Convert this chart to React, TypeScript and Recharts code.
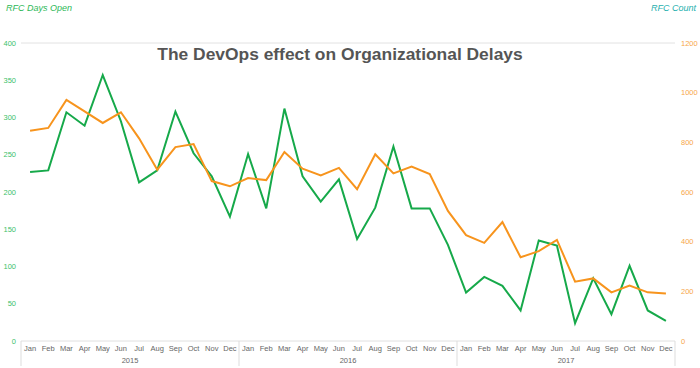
import React from "react";
import {
  ComposedChart,
  Line,
  XAxis,
  YAxis,
  CartesianGrid,
} from "recharts";

const months = ["Jan", "Feb", "Mar", "Apr", "May", "Jun", "Jul", "Aug", "Sep", "Oct", "Nov", "Dec"];
const years = ["2015", "2016", "2017"];

// RFC Days Open (left axis)
const daysOpen = [
  227, 229, 307, 289, 357, 295, 213, 229, 308, 252, 221, 167,
  251, 178, 312, 221, 187, 217, 137, 179, 261, 178, 178, 129,
  65, 86, 74, 41, 135, 128, 24, 84, 36, 101, 41, 27,
];

// RFC Count (right axis)
const rfcCount = [
  847, 858, 971, 925, 878, 921, 816, 690, 781, 793, 644, 623,
  656, 648, 761, 694, 667, 697, 611, 752, 675, 702, 672, 524,
  426, 395, 479, 337, 362, 407, 239, 252, 196, 223, 196, 191,
];

const leftTicks = [0, 50, 100, 150, 200, 250, 300, 350, 400];
const rightTicks = [0, 200, 400, 600, 800, 1000, 1200];

const GREEN = "#16a94a";
const ORANGE = "#f7941d";

const data = daysOpen.map((d, i) => ({
  key: `${months[i % 12]} ${years[Math.floor(i / 12)]}`,
  daysOpen: d,
  rfcCount: rfcCount[i],
}));

function MonthTick(props: any) {
  const { x, y, payload, index } = props;
  const off = payload?.offset ?? 0;
  const i = typeof index === "number" ? index : payload.index;
  const month = months[i % 12];
  const showYear = i % 12 === 6;
  return (
    <g>
      <text x={x} y={y + 10} textAnchor="middle" fontSize={7.5} fill="#666" fontFamily="Liberation Sans, Arial, sans-serif">
        {month}
      </text>
      {showYear && (
        <text x={x - off} y={y + 22} textAnchor="middle" fontSize={7.5} fill="#666" fontFamily="Liberation Sans, Arial, sans-serif">
          {years[Math.floor(i / 12)]}
        </text>
      )}
      {i % 12 === 0 && <line x1={x - off} x2={x - off} y1={y} y2={y + 25} stroke="#ddd" />}
      {i === data.length - 1 && <line x1={x + off} x2={x + off} y1={y} y2={y + 25} stroke="#ddd" />}
    </g>
  );
}

export default function App() {
  return (
    <div style={{ position: "absolute", left: 0, top: 0, width: 700, height: 368, background: "#fff", fontFamily: "Liberation Sans, Arial, sans-serif" }}>
      <ComposedChart width={700} height={368} data={data} margin={{ top: 43, right: 0, left: 0, bottom: 0 }}>
        <CartesianGrid vertical={false} stroke="#e2e2e2" />
        <XAxis
          dataKey="key"
          scale="band"
          interval={0}
          tickLine={false}
          tickSize={0}
          tickMargin={0}
          axisLine={{ stroke: "#eee" }}
          height={27}
          tick={<MonthTick />}
        />
        <YAxis
          yAxisId="left"
          domain={[0, 400]}
          ticks={leftTicks}
          width={21}
          axisLine={false}
          tickLine={false}
          tickSize={3}
          tickMargin={2}
          tick={{ fontSize: 7.5, fill: "#3cbf6a" }}
        />
        <YAxis
          yAxisId="right"
          orientation="right"
          domain={[0, 1200]}
          ticks={rightTicks}
          width={25}
          axisLine={false}
          tickLine={false}
          tickSize={4}
          tickMargin={2}
          tick={{ fontSize: 7.5, fill: "#f7a64a", textAnchor: "start" }}
        />
        <Line yAxisId="left" type="linear" dataKey="daysOpen" stroke={GREEN} strokeWidth={2} dot={false} isAnimationActive={false} />
        <Line yAxisId="right" type="linear" dataKey="rfcCount" stroke={ORANGE} strokeWidth={2} dot={false} isAnimationActive={false} />
      </ComposedChart>
      <div style={{ position: "absolute", left: 6, top: 3, fontSize: 9, fontStyle: "italic", color: "#2cb857" }}>RFC Days Open</div>
      <div style={{ position: "absolute", right: 4, top: 3, fontSize: 9, fontStyle: "italic", color: "#1fb0ae" }}>RFC Count</div>
      <div style={{ position: "absolute", left: 0, width: 680, top: 44, textAlign: "center", fontSize: 17.4, fontWeight: "bold", color: "#555" }}>
        The DevOps effect on Organizational Delays
      </div>
    </div>
  );
}
